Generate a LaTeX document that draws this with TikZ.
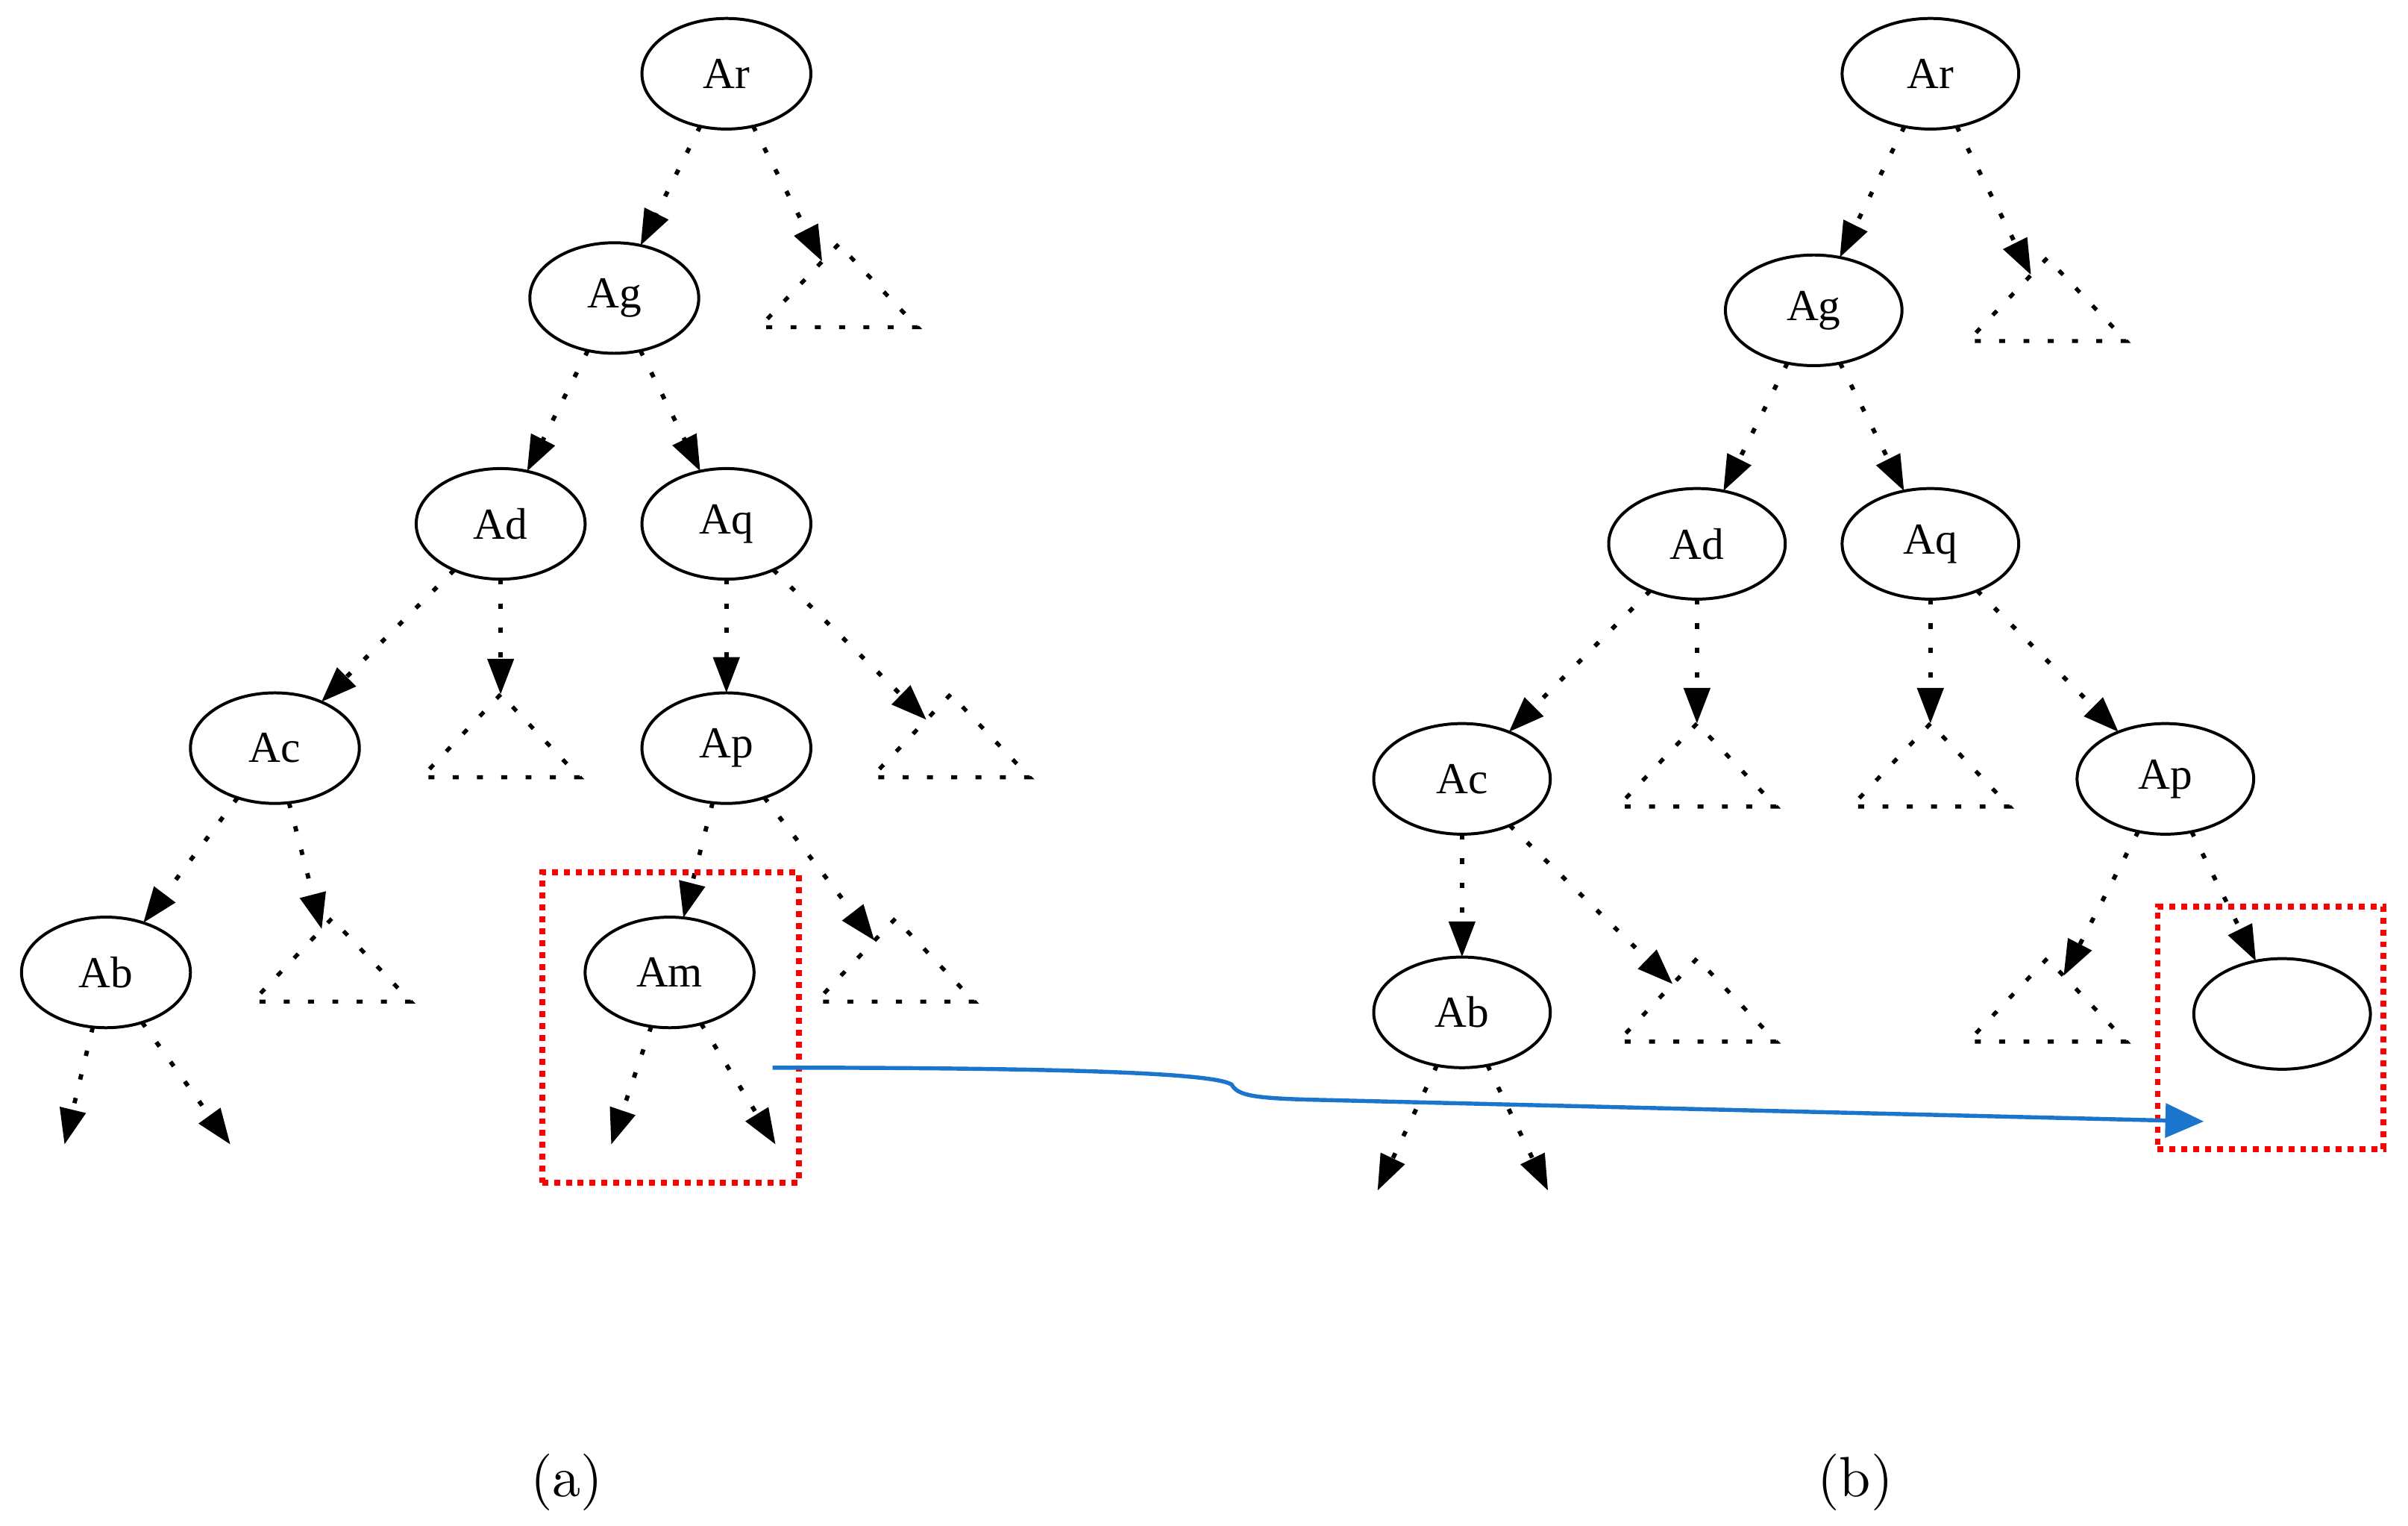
\documentclass[tikz,border=0pt]{standalone}
\usepackage{fontspec}
\usepackage{xcolor}
\usepackage{tikz}
\usetikzlibrary{arrows.meta, positioning, shapes.geometric}
\newfontfamily\treefont{Liberation Serif}
\definecolor{moveblue}{RGB}{28,117,204}
\definecolor{boxred}{RGB}{255,0,0}

\begin{document}
\begin{tikzpicture}[
    font=\treefont\fontsize{8.2}{9}\selectfont,
    every node/.style={inner sep=0pt, outer sep=0pt},
    tnode/.style={draw, ellipse, line width=0.55pt, minimum width=11mm, minimum height=7.2mm},
    wnode/.style={tnode, minimum width=11.5mm},
    subtree/.style={draw, isosceles triangle, isosceles triangle stretches,
                    shape border rotate=90, minimum width=10.3mm, minimum height=5.4mm,
                    line width=0.75pt, dash pattern=on 1.1pt off 3.4pt, anchor=apex},
    link/.style={-{Triangle[length=6.6pt, width=4.8pt]}, line width=0.8pt,
                 dash pattern=on 1pt off 3.5pt},
    hilite/.style={draw=boxred, line width=1.1pt, dash pattern=on 1.1pt off 1.1pt},
    move/.style={-{Triangle[length=2.5mm, width=2.2mm]}, moveblue, line width=0.75pt},
    caption/.style={font=\fontsize{10.5}{12}\selectfont},
]
\useasboundingbox (0,0) rectangle (15.68,-9.93);

% --------- Tree (a) ----------
\node[tnode] (lAr) at (4.73,-0.48) {Ar};
\node[tnode] (lAg) at (4.00,-1.94) {Ag};
\node[tnode] (lAd) at (3.26,-3.41) {Ad};
\node[tnode] (lAq) at (4.73,-3.41) {Aq};
\node[tnode] (lAc) at (1.79,-4.87) {Ac};
\node[tnode] (lAp) at (4.73,-4.87) {Ap};
\node[tnode] (lAb) at (0.69,-6.33) {Ab};
\node[tnode] (lAm) at (4.36,-6.33) {Am};

\node[subtree] (ltAr) at (5.46,-1.59) {};
\node[subtree] (ltAd) at (3.26,-4.52) {};
\node[subtree] (ltAq) at (6.19,-4.52) {};
\node[subtree] (ltAc) at (2.16,-5.98) {};
\node[subtree] (ltAp) at (5.83,-5.98) {};

\coordinate (lAbL) at (0.42,-7.45);
\coordinate (lAbR) at (1.50,-7.45);
\coordinate (lAmL) at (3.98,-7.45);
\coordinate (lAmR) at (5.05,-7.45);

\draw[link] (lAr) -- (lAg);
\draw[link] (lAr) -- (ltAr);
\draw[link] (lAg) -- (lAd);
\draw[link] (lAg) -- (lAq);
\draw[link] (lAd) -- (lAc);
\draw[link] (lAd) -- (ltAd);
\draw[link] (lAq) -- (lAp);
\draw[link] (lAq) -- (ltAq);
\draw[link] (lAc) -- (lAb);
\draw[link] (lAc) -- (ltAc);
\draw[link] (lAp) -- (lAm);
\draw[link] (lAp) -- (ltAp);
\draw[link] (lAb) -- (lAbL);
\draw[link] (lAb) -- (lAbR);
\draw[link] (lAm) -- (lAmL);
\draw[link] (lAm) -- (lAmR);

\node[hilite, minimum width=16.7mm, minimum height=20.2mm] (lBox) at (4.365,-6.69) {};

% --------- Tree (b) ----------
\node[wnode] (rAr)   at (12.57,-0.48) {Ar};
\node[wnode] (rAg)   at (11.81,-2.02) {Ag};
\node[wnode] (rAd)   at (11.05,-3.54) {Ad};
\node[wnode] (rAq)   at (12.57,-3.54) {Aq};
\node[wnode] (rAc)   at (9.52,-5.07)  {Ac};
\node[wnode] (rAp)   at (14.10,-5.07) {Ap};
\node[wnode] (rAb)   at (9.52,-6.59)  {Ab};
\node[wnode] (rHole) at (14.86,-6.60) {};

\node[subtree] (rtAr) at (13.33,-1.68) {};
\node[subtree] (rtAd) at (11.05,-4.71) {};
\node[subtree] (rtAq) at (12.57,-4.71) {};
\node[subtree] (rtAc) at (11.05,-6.24) {};
\node[subtree] (rtAp) at (13.33,-6.24) {};

\coordinate (rAbL) at (8.97,-7.75);
\coordinate (rAbR) at (10.08,-7.75);

\draw[link] (rAr) -- (rAg);
\draw[link] (rAr) -- (rtAr);
\draw[link] (rAg) -- (rAd);
\draw[link] (rAg) -- (rAq);
\draw[link] (rAd) -- (rAc);
\draw[link] (rAd) -- (rtAd);
\draw[link] (rAq) -- (rtAq);
\draw[link] (rAq) -- (rAp);
\draw[link] (rAc) -- (rAb);
\draw[link] (rAc) -- (rtAc);
\draw[link] (rAp) -- (rtAp);
\draw[link] (rAp) -- (rHole);
\draw[link] (rAb) -- (rAbL);
\draw[link] (rAb) -- (rAbR);

\node[hilite, minimum width=14.7mm, minimum height=15.8mm] (rBox) at (14.785,-6.69) {};

% --------- Move Am into the hole ----------
\coordinate (mvFrom) at (5.03,-6.95);
\coordinate (mvTo)   at (14.35,-7.30);
\draw[move] (mvFrom) .. controls (6.8,-6.95) and (7.9,-6.98) .. (8.02,-7.06)
            .. controls (8.06,-7.13) and (8.15,-7.15) .. (8.6,-7.16) -- (mvTo);

% --------- Captions ----------
\node[caption] (capA) at (3.69,-9.65) {(a)};
\node[caption] (capB) at (12.08,-9.65) {(b)};

\end{tikzpicture}
\end{document}
